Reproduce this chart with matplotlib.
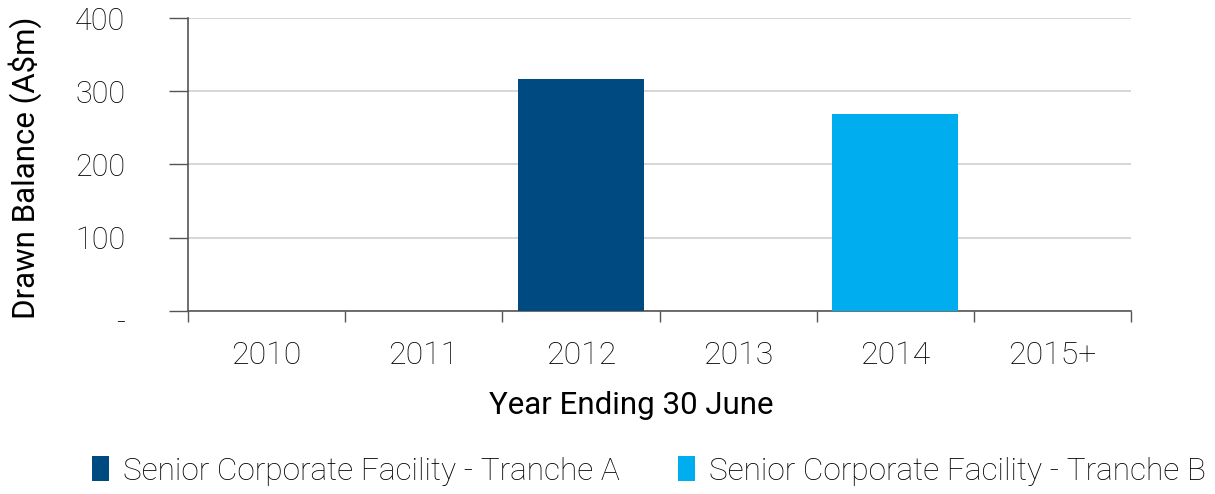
import matplotlib
matplotlib.use("Agg")
import matplotlib.pyplot as plt
import matplotlib.transforms as mtransforms
from matplotlib.patches import Patch
import numpy as np

categories = ["2010", "2011", "2012", "2013", "2014", "2015+"]
tranche_a = [0, 0, 317, 0, 0, 0]
tranche_b = [0, 0, 0, 0, 269, 0]
series_names = ["Senior Corporate Facility - Tranche A", "Senior Corporate Facility - Tranche B"]
colors = ["#004A82", "#00AEEF"]
y_ticks = [0, 100, 200, 300, 400]
y_tick_labels = ["-", "100", "200", "300", "400"]

plt.rcParams['font.family'] = ['Roboto', 'DejaVu Sans']

W, H = 1215, 494
fig = plt.figure(figsize=(W/100, H/100), dpi=100)
ax = fig.add_axes([188/W, 1-310.7/H, (1131-188)/W, (310.7-18.3)/H])

x = np.arange(len(categories))
ax.bar(x, tranche_a, width=0.8, color=colors[0], zorder=3)
ax.bar(x, tranche_b, width=0.8, bottom=tranche_a, color=colors[1], zorder=3)

ax.set_xlim(-0.5, len(categories) - 0.5)
ax.set_ylim(0, 400)
ax.set_yticks(y_ticks)
ax.set_yticklabels(y_tick_labels, fontsize=22, fontweight='light', color="#000000")
ax.yaxis.grid(True, color="#d0d0d0", linewidth=1.2, zorder=0)
ax.tick_params(axis='y', length=14, width=1, color="#555555", pad=31)

ax.set_xticks(x)
ax.set_xticklabels(categories, fontsize=23, fontweight='light', color="#000000")
ax.set_xticks(np.arange(-0.5, len(categories)), minor=True)
ax.tick_params(axis='x', which='major', length=0, pad=22)
ax.tick_params(axis='x', which='minor', length=8, width=1, color="#555555")

# shift the "-" zero label slightly downward
lab0 = ax.get_yticklabels()[0]
lab0.set_transform(lab0.get_transform() + mtransforms.ScaledTranslation(0, -10/100, fig.dpi_scale_trans))

for s in ["top", "right"]:
    ax.spines[s].set_visible(False)
for s in ["left", "bottom"]:
    ax.spines[s].set_color("#555555")
    ax.spines[s].set_linewidth(1.2)

ax.set_ylabel("Drawn Balance (A$m)", fontsize=22.5, color="#000000")
ax.yaxis.set_label_coords((42-188)/943, 0.49)
ax.set_xlabel("Year Ending 30 June", fontsize=22.5, color="#000000")
ax.xaxis.set_label_coords((631-188)/943, (310.7-391)/292.4)

handles = [Patch(facecolor=c, edgecolor='none') for c in colors]
fig.legend(handles, series_names, loc='center left', bbox_to_anchor=(92/W, 1-471/H), ncol=2,
           frameon=False, prop={'size': 22.8, 'weight': 'light'}, handlelength=0.55, handleheight=0.85,
           handletextpad=0.42, columnspacing=1.85, labelcolor="#000000", borderpad=0,
           borderaxespad=0)

fig.savefig("out.png", dpi=100)
